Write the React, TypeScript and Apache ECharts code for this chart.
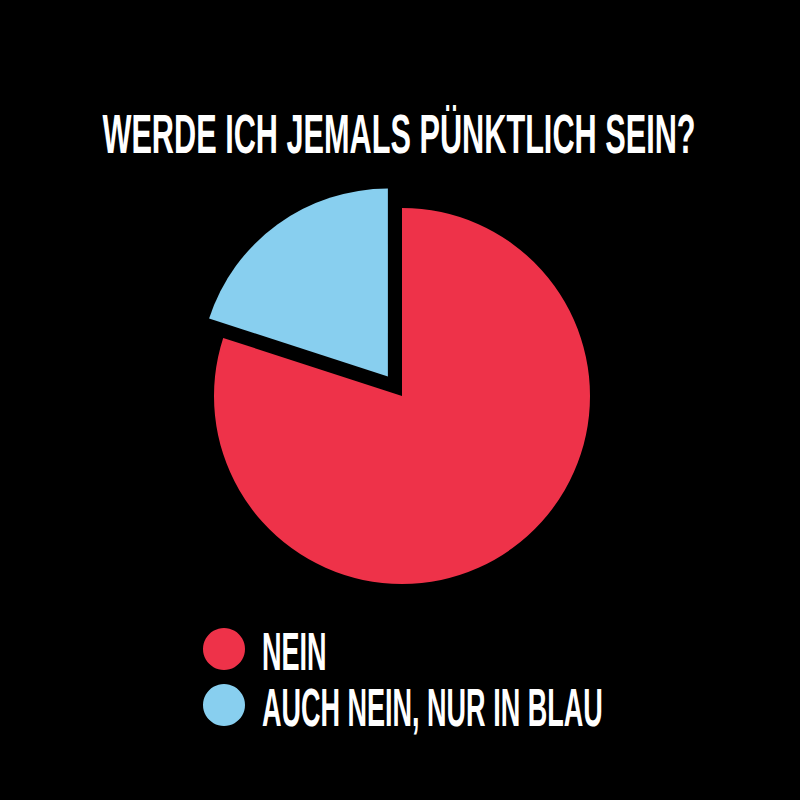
import React, { useEffect, useRef } from "react";
import * as echarts from "echarts";

const titleText = "WERDE ICH JEMALS PÜNKTLICH SEIN?";
const categories = ["NEIN", "AUCH NEIN, NUR IN BLAU"];
const values = [80, 20];
const colors = ["#EE3249", "#88CFEF"];

export default function App() {
  const ref = useRef<HTMLDivElement>(null);
  useEffect(() => {
    if (!ref.current) return;
    const chart = echarts.init(ref.current, null, { renderer: "svg" });
    const font = "'Liberation Sans', Arial, sans-serif";
    const legendItems: any[] = [];
    categories.forEach((name, i) => {
      const cy = 649 + i * 56;
      legendItems.push({
        type: "circle",
        shape: { cx: 224, cy, r: 21 },
        style: { fill: colors[i] },
        silent: true,
      });
      legendItems.push({
        type: "text",
        x: 262,
        y: cy + 3,
        scaleX: 0.51,
        style: {
          text: name,
          fill: "#ffffff",
          font: `bold 53px ${font}`,
          textAlign: "left",
          textVerticalAlign: "middle",
        },
        silent: true,
      });
    });
    chart.setOption({
      animation: false,
      backgroundColor: "#000000",
      graphic: [
        {
          type: "text",
          x: 399,
          y: 134,
          scaleX: 0.548,
          style: {
            text: titleText,
            fill: "#ffffff",
            font: `bold 56px ${font}`,
            textAlign: "center",
            textVerticalAlign: "middle",
          },
          silent: true,
        },
        ...legendItems,
      ],
      series: [
        {
          type: "pie",
          center: [402, 396],
          radius: 188,
          startAngle: 90,
          clockwise: true,
          selectedMode: "multiple",
          selectedOffset: 24,
          label: { show: false },
          labelLine: { show: false },
          emphasis: { disabled: true },
          itemStyle: { borderWidth: 0 },
          data: categories.map((name, i) => ({
            name,
            value: values[i],
            selected: i === 1,
            itemStyle: { color: colors[i] },
          })),
        },
      ],
    });
    return () => chart.dispose();
  }, []);
  return (
    <div
      ref={ref}
      style={{ position: "fixed", left: 0, top: 0, width: 800, height: 800 }}
    />
  );
}
